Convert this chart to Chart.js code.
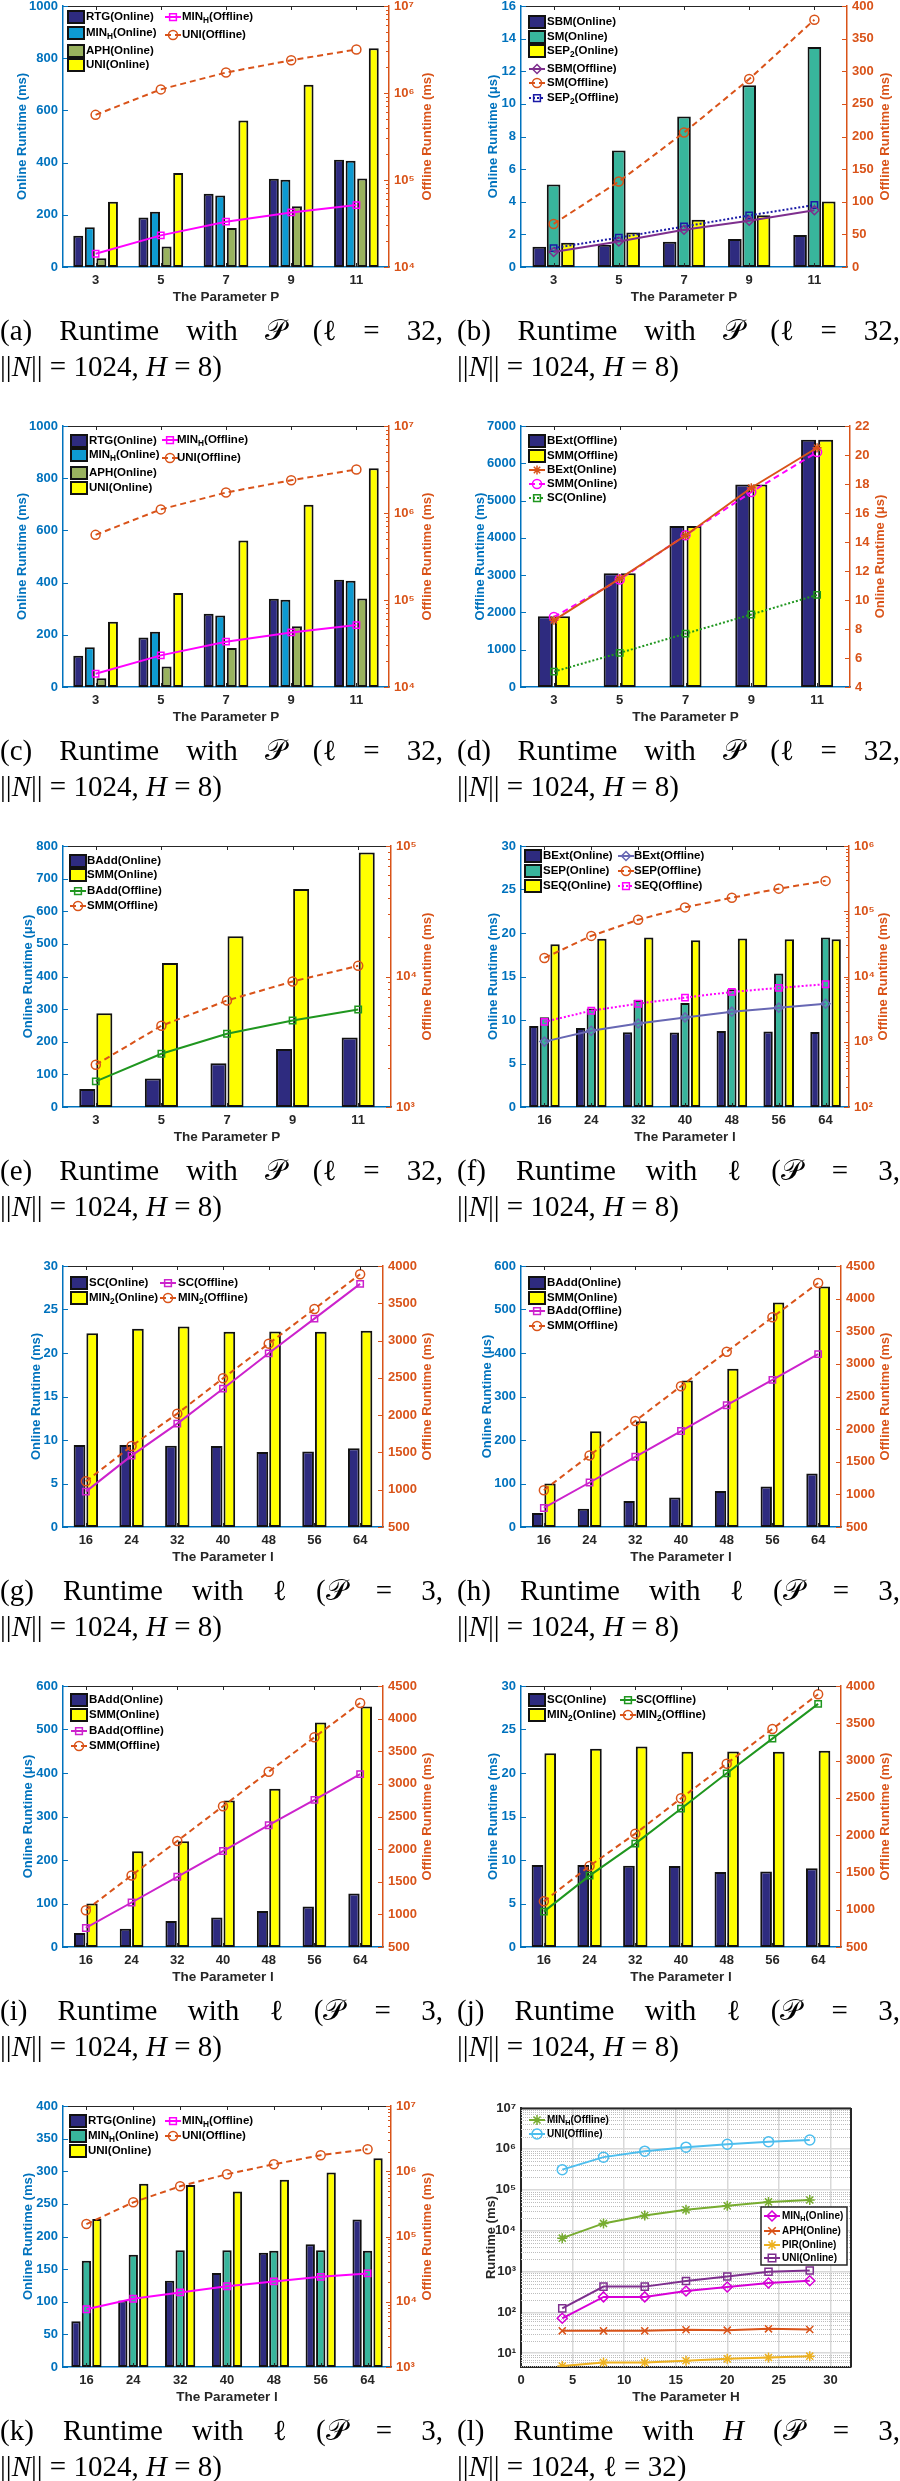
<!DOCTYPE html>
<html>
<head>
<meta charset="utf-8">
<title>Runtime figures</title>
<script src="https://cdn.jsdelivr.net/npm/chart.js@4.4.1/dist/chart.umd.min.js"></script>
<style>
  body { margin: 0; background: #fff; }
  #page { position: relative; width: 900px; height: 2481px; overflow: hidden; background: #fff; }
  canvas { position: absolute; }
  .cap { position: absolute; width: 443px; font-family: 'Liberation Serif', 'DejaVu Serif', serif; font-size: 29px; line-height: 36px; color: #000; white-space: nowrap; }
  .cap.l1 { display: flex; justify-content: space-between; }
  .cap i { font-style: italic; }
</style>
</head>
<body>
<div id="page"></div>
<script>
// x categories
const paramP = ['3', '5', '7', '9', '11'];
const paramL = ['16', '24', '32', '40', '48', '56', '64'];
const paramH = [4, 8, 12, 16, 20, 24, 28];

// (a)/(c) runtime with P
const pRtgOnline = [120, 190, 281, 338, 411];
const pMinHOnline = [152, 212, 274, 334, 407];
const pAphOnline = [34, 79, 149, 233, 339];
const pUniOnline = [250, 360, 561, 698, 838];
const pMinHOffline = [14200, 23100, 33200, 42400, 51500];
const pUniOffline = [561000, 1100000, 1720000, 2380000, 3160000];

// (b)
const pSbmOnline = [1.24, 1.37, 1.55, 1.71, 1.96];
const pSmOnline = [5.06, 7.14, 9.22, 11.14, 13.49];
const pSep2Online = [1.49, 2.12, 2.90, 3.18, 4.02];
const pSbmOffline = [23, 39, 57, 71, 87];
const pSmOffline = [66, 131, 206, 288, 379];
const pSep2Offline = [29, 45, 62, 79, 95];

// (d)
const pBextOffline = [1898, 3053, 4315, 5434, 6634];
const pSmmOfflineD = [1898, 3053, 4315, 5434, 6634];
const pBextOnline = [8.60, 11.48, 14.45, 17.74, 20.5];
const pSmmOnlineD = [8.83, 11.41, 14.47, 17.44, 20.2];
const pScOnline = [5.06, 6.35, 7.68, 9.0, 10.35];

// (e)
const pBaddOnline = [55, 87, 134, 178, 213];
const pSmmOnline = [287, 441, 523, 668, 780];
const pBaddOffline = [1570, 2560, 3640, 4600, 5590];
const pSmmOffline = [2110, 4190, 6550, 9160, 12070];

// (f) runtime with l
const lBextOnline = [9.32, 9.09, 8.59, 8.55, 8.74, 8.67, 8.63];
const lSepOnline = [10.31, 11.31, 12.31, 11.96, 13.54, 15.34, 19.48];
const lSeqOnline = [18.71, 19.33, 19.48, 19.17, 19.36, 19.29, 19.29];
const lBextOffline = [1005, 1470, 1900, 2360, 2890, 3330, 3830];
const lSepOffline = [19200, 41900, 73900, 114600, 161000, 222000, 292000];
const lSeqOffline = [2020, 2990, 3830, 4740, 5800, 6690, 7620];

// (g)/(j)
const lScOnline = [9.42, 9.42, 9.34, 9.30, 8.61, 8.69, 9.04];
const lMin2Online = [22.28, 22.78, 23.05, 22.43, 22.47, 22.43, 22.55];
const lScOffline = [974, 1457, 1886, 2355, 2829, 3294, 3760];
const lMin2Offline = [1112, 1586, 2020, 2494, 2959, 3424, 3890];

// (h)/(i)
const lBaddOnline = [32, 42, 60, 68, 83, 93, 123];
const lSmmOnline = [100, 220, 243, 337, 364, 516, 553];
const lBaddOffline = [792, 1182, 1576, 1971, 2366, 2755, 3150];
const lSmmOffline = [1064, 1597, 2125, 2658, 3186, 3714, 4240];

// (k)
const lRtgOnline = [70, 102, 132, 144, 175, 188, 226];
const lMinHOnline = [163, 172, 179, 179, 178, 179, 178];
const lUniOnline = [227, 281, 279, 269, 287, 298, 320];
const lMinHOffline = [7690, 11100, 13900, 17300, 20500, 24100, 27200];
const lUniOffline = [155000, 334000, 589000, 900000, 1280000, 1760000, 2180000];

// (l) runtime with H
const hMinHOffline = [6530, 15000, 23500, 32200, 40300, 50300, 56200];
const hUniOffline = [310000, 628000, 880000, 1100000, 1300000, 1500000, 1650000];
const hMinHOnline = [71.6, 239, 239, 334, 418, 522, 594];
const hAphOnline = [35.3, 35.3, 35.3, 37.4, 36.6, 39.5, 38.1];
const hPirOnline = [4.85, 5.94, 5.94, 6.53, 7.29, 7.85, 8.46];
const hUniOnline = [125, 426, 426, 583, 757, 982, 1057];

const FAM = "'Liberation Sans', Arial, Helvetica, sans-serif";
const TICK_FONT = { family: FAM, size: 13, weight: 'bold' };
const BLUE = '#0072BD', ORANGE = '#D95319', DARK = '#262626';
const NAVY = '#2E2B7F', CYAN = '#0D9AD1', OLIVE = '#99B25E', YELLOW = '#FFFF00', TEAL = '#38B59C';
const MAGENTA = '#FF00FF', MAG2 = '#CC22CC', PURPLE = '#7E2F8E', DKBLUE = '#1A1AA6';
const GREEN = '#1F961F', SLATE = '#6767B3';
const DASH = [6, 4], DOT = [2, 2];
const SUP = '⁰¹²³⁴⁵⁶⁷⁸⁹';

const page = document.getElementById('page');

function pow10(v) {
  return '10' + SUP[Math.round(Math.log10(v))];
}
function decades(min, max) {
  const out = [];
  for (let e = Math.ceil(Math.log10(min) - 1e-9); e <= Math.floor(Math.log10(max) + 1e-9); e++) {
    out.push({ value: Math.pow(10, e) });
  }
  return out;
}

function bars(label, data, color) {
  return { type: 'bar', label, data, backgroundColor: color, borderColor: '#111', borderWidth: 2,
    borderSkipped: false, yAxisID: 'y', order: 2 };
}
function line(label, data, color, marker, dash) {
  return { type: 'line', label, data, borderColor: color, borderWidth: 2, borderDash: dash || [],
    pointStyle: marker, pointRadius: 4.5, pointBorderColor: color, pointBorderWidth: 1.5,
    pointBackgroundColor: 'rgba(0,0,0,0)', fill: false, tension: 0, yAxisID: 'y2', order: 1 };
}

// small marker drawer for the legends
function marker(ctx, style, x, y, r) {
  ctx.beginPath();
  if (style === 'circle') {
    ctx.arc(x, y, r, 0, Math.PI * 2);
  } else if (style === 'rect') {
    const s = r * 0.75;
    ctx.rect(x - s, y - s, 2 * s, 2 * s);
  } else if (style === 'rectRot') {
    ctx.moveTo(x, y - r); ctx.lineTo(x + r, y); ctx.lineTo(x, y + r); ctx.lineTo(x - r, y); ctx.closePath();
  } else if (style === 'crossRot') {
    const s = r * 0.75;
    ctx.moveTo(x - s, y - s); ctx.lineTo(x + s, y + s); ctx.moveTo(x + s, y - s); ctx.lineTo(x - s, y + s);
  } else if (style === 'star') {
    for (let k = 0; k < 4; k++) {
      const an = k * Math.PI / 4;
      ctx.moveTo(x - r * Math.cos(an), y - r * Math.sin(an));
      ctx.lineTo(x + r * Math.cos(an), y + r * Math.sin(an));
    }
  }
  ctx.stroke();
}

// text with one-char subscripts written as _X
function richText(ctx, s, x, y, size) {
  const parts = s.split(/_(\w)/);
  let cx = x;
  parts.forEach((p, i) => {
    if (i % 2) {
      ctx.font = `bold ${size * 0.72}px ${FAM}`;
      ctx.fillText(p, cx, y + size * 0.35);
    } else {
      ctx.font = `bold ${size}px ${FAM}`;
      ctx.fillText(p, cx, y);
    }
    cx += ctx.measureText(p).width;
  });
}

function vText(ctx, text, x, y, color) {
  ctx.save();
  ctx.translate(x, y);
  ctx.rotate(-Math.PI / 2);
  ctx.fillStyle = color;
  ctx.textAlign = 'center';
  ctx.textBaseline = 'middle';
  ctx.fillText(text, 0, 0);
  ctx.restore();
}

function ticksIn(ctx, scale, x0, dir, color) {
  ctx.strokeStyle = color;
  ctx.lineWidth = 1;
  ctx.beginPath();
  scale.ticks.forEach(t => {
    const py = Math.round(scale.getPixelForValue(t.value)) + 0.5;
    ctx.moveTo(x0, py); ctx.lineTo(x0 + dir * 5, py);
  });
  if (scale.type === 'logarithmic') {
    for (let e = Math.floor(Math.log10(scale.min)); e < Math.ceil(Math.log10(scale.max)); e++) {
      for (let k = 2; k <= 9; k++) {
        const v = k * Math.pow(10, e);
        if (v <= scale.min || v >= scale.max) continue;
        const py = Math.round(scale.getPixelForValue(v)) + 0.5;
        ctx.moveTo(x0, py); ctx.lineTo(x0 + dir * 3, py);
      }
    }
  }
  ctx.stroke();
}

function drawLegend(chart, lg) {
  const { ctx, chartArea: a } = chart;
  const x0 = a.left + lg.x;
  const size = lg.size || 11.5;
  if (lg.frame) {
    const [fx0, fy0, fx1, fy1] = lg.frame;
    ctx.fillStyle = '#fff';
    ctx.fillRect(a.left + fx0, a.top + fy0, fx1 - fx0, fy1 - fy0);
    ctx.strokeStyle = DARK; ctx.lineWidth = 1.5; ctx.setLineDash([]);
    ctx.strokeRect(a.left + fx0, a.top + fy0, fx1 - fx0, fy1 - fy0);
  }
  lg.rows.forEach(([di, dy]) => {
    const ds = chart.data.datasets[di];
    const y = a.top + dy;
    if (ds.type === 'bar') {
      ctx.fillStyle = ds.backgroundColor;
      ctx.fillRect(x0, y - 6, 16, 12);
      ctx.strokeStyle = '#111'; ctx.lineWidth = 2; ctx.setLineDash([]);
      ctx.strokeRect(x0, y - 6, 16, 12);
    } else {
      ctx.strokeStyle = ds.borderColor; ctx.lineWidth = ds.borderWidth;
      ctx.setLineDash(ds.borderDash || []);
      ctx.beginPath(); ctx.moveTo(x0, y); ctx.lineTo(x0 + 16, y); ctx.stroke();
      ctx.setLineDash([]); ctx.lineWidth = 1.5;
      marker(ctx, ds.pointStyle, x0 + 8, y, ds.pointRadius);
    }
    ctx.fillStyle = '#000'; ctx.textBaseline = 'middle'; ctx.textAlign = 'left';
    richText(ctx, ds.label, a.left + lg.tx, y, size);
  });
}

const decor = {
  id: 'decor',
  beforeDatasetsDraw(chart, args, o) {
    if (!o.minorGrid) return;
    const { ctx, chartArea: a } = chart;
    const ys = chart.scales.y;
    ctx.save();
    ctx.strokeStyle = '#bdbdbd'; ctx.lineWidth = 1; ctx.setLineDash([1, 1]);
    ctx.beginPath();
    for (let e = 0; e < 7; e++) {
      for (let k = 2; k <= 9; k++) {
        const v = k * Math.pow(10, e);
        if (v <= ys.min || v >= ys.max) continue;
        const py = Math.round(ys.getPixelForValue(v)) + 0.5;
        ctx.moveTo(a.left, py); ctx.lineTo(a.right, py);
      }
    }
    ctx.stroke();
    ctx.restore();
  },
  afterDraw(chart, args, o) {
    const { ctx, chartArea: a, scales } = chart;
    ctx.save();
    ctx.strokeStyle = o.frameColor || DARK;
    ctx.lineWidth = o.frameWidth || 1;
    ctx.beginPath();
    ctx.moveTo(a.left, a.top + 0.5); ctx.lineTo(a.right, a.top + 0.5);
    if (o.fullBox) { ctx.moveTo(a.right, a.top); ctx.lineTo(a.right, a.bottom); }
    ctx.stroke();
    if (o.ticksIn) {
      ticksIn(ctx, scales.y, a.left, 1, o.yColor);
      if (scales.y2) ticksIn(ctx, scales.y2, a.right, -1, o.y2Color);
      ctx.strokeStyle = DARK; ctx.lineWidth = 1;
      ctx.beginPath();
      scales.x.ticks.forEach((t, i) => {
        const px = Math.round(scales.x.getPixelForTick(i)) + 0.5;
        ctx.moveTo(px, a.top); ctx.lineTo(px, a.top + 4);
        ctx.moveTo(px, a.bottom); ctx.lineTo(px, a.bottom - 4);
      });
      ctx.stroke();
    }
    ctx.font = `bold 13px ${FAM}`;
    vText(ctx, o.yTitle, a.left - o.yDx, (a.top + a.bottom) / 2, o.yColor);
    if (o.y2Title) vText(ctx, o.y2Title, a.right + o.y2Dx, (a.top + a.bottom) / 2, o.y2Color);
    ctx.font = `bold 13.5px ${FAM}`;
    ctx.fillStyle = DARK; ctx.textAlign = 'center'; ctx.textBaseline = 'middle';
    ctx.fillText(o.xTitle, (a.left + a.right) / 2, a.bottom + 30);
    (o.legends || []).forEach(lg => drawLegend(chart, lg));
    ctx.restore();
  }
};

function addCanvas(x, y, w, h) {
  const cv = document.createElement('canvas');
  cv.width = w; cv.height = h;
  cv.style.left = x + 'px'; cv.style.top = y + 'px';
  cv.style.width = w + 'px'; cv.style.height = h + 'px';
  page.appendChild(cv);
  return cv;
}

function axis(spec, pos, color, width) {
  const ax = {
    position: pos, min: spec.min, max: spec.max,
    grid: { display: false, drawTicks: false },
    border: { display: true, color, width: 1.5 },
    ticks: { color, font: TICK_FONT, padding: 5, autoSkip: false, includeBounds: false },
    afterFit: s => { s.width = width; }
  };
  if (spec.log) {
    ax.type = 'logarithmic';
    ax.ticks.callback = v => pow10(v);
    ax.afterBuildTicks = s => { s.ticks = decades(spec.min, spec.max); };
  } else {
    ax.type = 'linear';
    ax.ticks.stepSize = spec.step;
    ax.ticks.callback = v => String(v);
  }
  return ax;
}

function makeBarPanel(p) {
  const colX = p.col * 450;
  const top = 6 + 420 * p.row, bottom = 267 + 420 * p.row;
  const padTop = 14, xH = 46, w = 450, h = bottom - top + padTop + xH;
  const cv = addCanvas(colX, top - padTop, w, h);
  p.datasets.forEach(ds => {
    if (ds.type === 'bar') { ds.categoryPercentage = p.cat; ds.barPercentage = p.bar; }
  });
  new Chart(cv, {
    type: 'bar',
    data: { labels: p.labels, datasets: p.datasets },
    options: {
      responsive: false, animation: false, devicePixelRatio: 1,
      layout: { padding: { top: padTop, left: 0, right: 0, bottom: 0 } },
      plugins: {
        legend: { display: false }, tooltip: { enabled: false },
        decor: {
          ticksIn: true, yColor: BLUE, y2Color: ORANGE,
          yTitle: p.yTitle, yDx: p.yDx, y2Title: p.y2Title, y2Dx: p.y2Dx,
          xTitle: p.xTitle, legends: p.legends
        }
      },
      scales: {
        x: {
          type: 'category', offset: true,
          grid: { display: false, drawTicks: false },
          border: { display: true, color: BLUE, width: 1.5 },
          ticks: { color: DARK, font: TICK_FONT, padding: 6 },
          afterFit: s => { s.height = xH; }
        },
        y: axis(p.y, 'left', BLUE, p.L - colX),
        y2: axis(p.y2, 'right', ORANGE, colX + w - p.R)
      }
    },
    plugins: [decor]
  });
}

// (a)
makeBarPanel({
  row: 0, col: 0, L: 63, R: 389, labels: paramP, cat: 0.71, bar: 0.86,
  datasets: [
    bars('RTG(Online)', pRtgOnline, NAVY), bars('MIN_H(Online)', pMinHOnline, CYAN),
    bars('APH(Online)', pAphOnline, OLIVE), bars('UNI(Online)', pUniOnline, YELLOW),
    line('MIN_H(Offline)', pMinHOffline, MAGENTA, 'rect'), line('UNI(Offline)', pUniOffline, ORANGE, 'circle', DASH)
  ],
  y: { min: 0, max: 1000, step: 200 }, y2: { min: 1e4, max: 1e7, log: true },
  yTitle: 'Online Runtime (ms)', yDx: 41, y2Title: 'Offline Runtime (ms)', y2Dx: 38, xTitle: 'The Parameter P',
  legends: [{ x: 5, tx: 23, rows: [[0, 11], [1, 27], [2, 45], [3, 59]] }, { x: 102, tx: 119, rows: [[4, 11], [5, 29]] }]
});

// (b)
makeBarPanel({
  row: 0, col: 1, L: 521, R: 847, labels: paramP, cat: 0.66, bar: 0.95,
  datasets: [
    bars('SBM(Online)', pSbmOnline, NAVY), bars('SM(Online)', pSmOnline, TEAL), bars('SEP_2(Online)', pSep2Online, YELLOW),
    line('SBM(Offline)', pSbmOffline, PURPLE, 'rectRot'), line('SM(Offline)', pSmOffline, ORANGE, 'circle', DASH),
    line('SEP_2(Offline)', pSep2Offline, DKBLUE, 'rect', DOT)
  ],
  y: { min: 0, max: 16, step: 2 }, y2: { min: 0, max: 400, step: 50 },
  yTitle: 'Online Runtime (μs)', yDx: 28, y2Title: 'Offline Runtime (ms)', y2Dx: 38, xTitle: 'The Parameter P',
  legends: [{ x: 8, tx: 26, rows: [[0, 16], [1, 31], [2, 45], [3, 63], [4, 77], [5, 92]] }]
});

// (c)
makeBarPanel({
  row: 1, col: 0, L: 63, R: 389, labels: paramP, cat: 0.71, bar: 0.86,
  datasets: [
    bars('RTG(Online)', pRtgOnline, NAVY), bars('MIN_H(Online)', pMinHOnline, CYAN),
    bars('APH(Online)', pAphOnline, OLIVE), bars('UNI(Online)', pUniOnline, YELLOW),
    line('MIN_H(Offline)', pMinHOffline, MAGENTA, 'rect'), line('UNI(Offline)', pUniOffline, ORANGE, 'circle', DASH)
  ],
  y: { min: 0, max: 1000, step: 200 }, y2: { min: 1e4, max: 1e7, log: true },
  yTitle: 'Online Runtime (ms)', yDx: 41, y2Title: 'Offline Runtime (ms)', y2Dx: 38, xTitle: 'The Parameter P',
  legends: [{ x: 8, tx: 26, rows: [[0, 15], [1, 29], [2, 47], [3, 62]] }, { x: 99, tx: 114, rows: [[4, 14], [5, 32]] }]
});

// (d)
makeBarPanel({
  row: 1, col: 1, L: 521, R: 850, labels: paramP, cat: 0.52, bar: 0.875,
  datasets: [
    bars('BExt(Offline)', pBextOffline, NAVY), bars('SMM(Offline)', pSmmOfflineD, YELLOW),
    line('BExt(Online)', pBextOnline, ORANGE, 'star'), line('SMM(Online)', pSmmOnlineD, MAGENTA, 'circle', DASH),
    line('SC(Online)', pScOnline, GREEN, 'rect', DOT)
  ],
  y: { min: 0, max: 7000, step: 1000 }, y2: { min: 4, max: 22, step: 2 },
  yTitle: 'Offline Runtime (ms)', yDx: 41, y2Title: 'Online Runtime (μs)', y2Dx: 30, xTitle: 'The Parameter P',
  legends: [{ x: 8, tx: 26, rows: [[0, 15], [1, 30], [2, 44], [3, 58], [4, 72]] }]
});

// (e)
makeBarPanel({
  row: 2, col: 0, L: 63, R: 391, labels: paramP, cat: 0.52, bar: 0.94,
  datasets: [
    bars('BAdd(Online)', pBaddOnline, NAVY), bars('SMM(Online)', pSmmOnline, YELLOW),
    line('BAdd(Offline)', pBaddOffline, GREEN, 'rect'), line('SMM(Offline)', pSmmOffline, ORANGE, 'circle', DASH)
  ],
  y: { min: 0, max: 800, step: 100 }, y2: { min: 1e3, max: 1e5, log: true },
  yTitle: 'Online Runtime (μs)', yDx: 35, y2Title: 'Offline Runtime (ms)', y2Dx: 36, xTitle: 'The Parameter P',
  legends: [{ x: 7, tx: 24, rows: [[0, 15], [1, 29], [2, 45], [3, 60]] }]
});

// (f)
makeBarPanel({
  row: 2, col: 1, L: 521, R: 849, labels: paramL, cat: 0.68, bar: 0.88,
  datasets: [
    bars('BExt(Online)', lBextOnline, NAVY), bars('SEP(Online)', lSepOnline, TEAL), bars('SEQ(Online)', lSeqOnline, YELLOW),
    line('BExt(Offline)', lBextOffline, SLATE, 'rectRot'), line('SEP(Offline)', lSepOffline, ORANGE, 'circle', DASH),
    line('SEQ(Offline)', lSeqOffline, MAGENTA, 'rect', DOT)
  ],
  y: { min: 0, max: 30, step: 5 }, y2: { min: 1e2, max: 1e6, log: true },
  yTitle: 'Online Runtime (ms)', yDx: 28, y2Title: 'Offline Runtime (ms)', y2Dx: 34, xTitle: 'The Parameter l',
  legends: [{ x: 4, tx: 22, rows: [[0, 10], [1, 25], [2, 40]] }, { x: 97, tx: 113, rows: [[3, 10], [4, 25], [5, 40]] }]
});

// (g)
makeBarPanel({
  row: 3, col: 0, L: 63, R: 383, labels: paramL, cat: 0.555, bar: 0.92,
  datasets: [
    bars('SC(Online)', lScOnline, NAVY), bars('MIN_2(Online)', lMin2Online, YELLOW),
    line('SC(Offline)', lScOffline, MAG2, 'rect'), line('MIN_2(Offline)', lMin2Offline, ORANGE, 'circle', DASH)
  ],
  y: { min: 0, max: 30, step: 5 }, y2: { min: 500, max: 4000, step: 500 },
  yTitle: 'Online Runtime (ms)', yDx: 27, y2Title: 'Offline Runtime (ms)', y2Dx: 44, xTitle: 'The Parameter l',
  legends: [{ x: 8, tx: 26, rows: [[0, 17], [1, 32]] }, { x: 97, tx: 115, rows: [[2, 17], [3, 32]] }]
});

// (h)
makeBarPanel({
  row: 3, col: 1, L: 521, R: 841, labels: paramL, cat: 0.54, bar: 0.92,
  datasets: [
    bars('BAdd(Online)', lBaddOnline, NAVY), bars('SMM(Online)', lSmmOnline, YELLOW),
    line('BAdd(Offline)', lBaddOffline, MAG2, 'rect'), line('SMM(Offline)', lSmmOffline, ORANGE, 'circle', DASH)
  ],
  y: { min: 0, max: 600, step: 100 }, y2: { min: 500, max: 4500, step: 500 },
  yTitle: 'Online Runtime (μs)', yDx: 34, y2Title: 'Offline Runtime (ms)', y2Dx: 44, xTitle: 'The Parameter l',
  legends: [{ x: 8, tx: 26, rows: [[0, 17], [1, 32], [2, 45], [3, 60]] }]
});

// (i)
makeBarPanel({
  row: 4, col: 0, L: 63, R: 383, labels: paramL, cat: 0.54, bar: 0.92,
  datasets: [
    bars('BAdd(Online)', lBaddOnline, NAVY), bars('SMM(Online)', lSmmOnline, YELLOW),
    line('BAdd(Offline)', lBaddOffline, MAG2, 'rect'), line('SMM(Offline)', lSmmOffline, ORANGE, 'circle', DASH)
  ],
  y: { min: 0, max: 600, step: 100 }, y2: { min: 500, max: 4500, step: 500 },
  yTitle: 'Online Runtime (μs)', yDx: 35, y2Title: 'Offline Runtime (ms)', y2Dx: 44, xTitle: 'The Parameter l',
  legends: [{ x: 8, tx: 26, rows: [[0, 14], [1, 29], [2, 45], [3, 60]] }]
});

// (j)
makeBarPanel({
  row: 4, col: 1, L: 521, R: 841, labels: paramL, cat: 0.555, bar: 0.92,
  datasets: [
    bars('SC(Online)', lScOnline, NAVY), bars('MIN_2(Online)', lMin2Online, YELLOW),
    line('SC(Offline)', lScOffline, GREEN, 'rect'), line('MIN_2(Offline)', lMin2Offline, ORANGE, 'circle', DASH)
  ],
  y: { min: 0, max: 30, step: 5 }, y2: { min: 500, max: 4000, step: 500 },
  yTitle: 'Online Runtime (ms)', yDx: 28, y2Title: 'Offline Runtime (ms)', y2Dx: 44, xTitle: 'The Parameter l',
  legends: [{ x: 8, tx: 26, rows: [[0, 14], [1, 29]] }, { x: 99, tx: 115, rows: [[2, 14], [3, 29]] }]
});

// (k)
makeBarPanel({
  row: 5, col: 0, L: 63, R: 391, labels: paramL, cat: 0.67, bar: 0.89,
  datasets: [
    bars('RTG(Online)', lRtgOnline, NAVY), bars('MIN_H(Online)', lMinHOnline, TEAL), bars('UNI(Online)', lUniOnline, YELLOW),
    line('MIN_H(Offline)', lMinHOffline, MAGENTA, 'rect'), line('UNI(Offline)', lUniOffline, ORANGE, 'circle', DASH)
  ],
  y: { min: 0, max: 400, step: 50 }, y2: { min: 1e3, max: 1e7, log: true },
  yTitle: 'Online Runtime (ms)', yDx: 35, y2Title: 'Offline Runtime (ms)', y2Dx: 36, xTitle: 'The Parameter l',
  legends: [{ x: 7, tx: 25, rows: [[0, 15], [1, 30], [2, 45]] }, { x: 102, tx: 119, rows: [[3, 15], [4, 30]] }]
});

// (l) runtime with H, log scale
(function () {
  const colX = 450, top = 2108, bottom = 2367, L = 521, R = 851;
  const padTop = 14, xH = 46, w = 450, h = bottom - top + padTop + xH;
  const cv = addCanvas(colX, top - padTop, w, h);
  const hl = (label, arr, color, mk) => ({
    label, data: paramH.map((x, i) => ({ x, y: arr[i] })), borderColor: color, borderWidth: 2,
    pointStyle: mk, pointRadius: 5, pointBorderColor: color, pointBorderWidth: 1.5,
    pointBackgroundColor: 'rgba(0,0,0,0)', fill: false, tension: 0
  });
  new Chart(cv, {
    type: 'line',
    data: {
      datasets: [
        hl('MIN_H(Offline)', hMinHOffline, '#77AC30', 'star'),
        hl('UNI(Offline)', hUniOffline, '#4DBEEE', 'circle'),
        hl('MIN_H(Online)', hMinHOnline, '#D600D6', 'rectRot'),
        hl('APH(Online)', hAphOnline, ORANGE, 'crossRot'),
        hl('PIR(Online)', hPirOnline, '#EDB120', 'star'),
        hl('UNI(Online)', hUniOnline, PURPLE, 'rect')
      ]
    },
    options: {
      responsive: false, animation: false, devicePixelRatio: 1,
      layout: { padding: { top: padTop, left: 0, right: colX + w - R, bottom: 0 } },
      plugins: {
        legend: { display: false }, tooltip: { enabled: false },
        decor: {
          minorGrid: true, fullBox: true, frameColor: DARK, frameWidth: 2,
          yColor: DARK, yTitle: 'Runtime (ms)', yDx: 30, xTitle: 'The Parameter H',
          legends: [
            { x: 8, tx: 26, size: 10, rows: [[0, 12], [1, 26]] },
            { x: 243, tx: 261, size: 10, frame: [240, 99, 326, 157], rows: [[2, 108], [3, 123], [4, 137], [5, 150]] }
          ]
        }
      },
      scales: {
        x: {
          type: 'linear', min: 0, max: 32,
          grid: { color: '#d9d9d9', lineWidth: 1.5, drawTicks: false },
          border: { display: true, color: DARK, width: 2 },
          ticks: { stepSize: 5, includeBounds: false, color: DARK, font: TICK_FONT, padding: 6 },
          afterFit: s => { s.height = xH; }
        },
        y: {
          type: 'logarithmic', min: 4.6, max: 1e7,
          grid: { color: '#d9d9d9', lineWidth: 1.5, drawTicks: false },
          border: { display: true, color: DARK, width: 2 },
          ticks: { color: DARK, font: TICK_FONT, padding: 5, autoSkip: false, callback: v => pow10(v) },
          afterBuildTicks: s => { s.ticks = decades(10, 1e7); },
          afterFit: s => { s.width = L - colX; }
        }
      }
    },
    plugins: [decor]
  });
})();

// captions under each panel
const P = '𝒫';
const capP = '||<i>N</i>|| = 1024, <i>H</i> = 8)';
const captions = [
  ['(a)', 'Runtime', 'with', P, '(ℓ', '=', '32,', capP],
  ['(b)', 'Runtime', 'with', P, '(ℓ', '=', '32,', capP],
  ['(c)', 'Runtime', 'with', P, '(ℓ', '=', '32,', capP],
  ['(d)', 'Runtime', 'with', P, '(ℓ', '=', '32,', capP],
  ['(e)', 'Runtime', 'with', P, '(ℓ', '=', '32,', capP],
  ['(f)', 'Runtime', 'with', 'ℓ', '(' + P, '=', '3,', capP],
  ['(g)', 'Runtime', 'with', 'ℓ', '(' + P, '=', '3,', capP],
  ['(h)', 'Runtime', 'with', 'ℓ', '(' + P, '=', '3,', capP],
  ['(i)', 'Runtime', 'with', 'ℓ', '(' + P, '=', '3,', capP],
  ['(j)', 'Runtime', 'with', 'ℓ', '(' + P, '=', '3,', capP],
  ['(k)', 'Runtime', 'with', 'ℓ', '(' + P, '=', '3,', capP],
  ['(l)', 'Runtime', 'with', '<i>H</i>', '(' + P, '=', '3,', '||<i>N</i>|| = 1024, ℓ = 32)']
];
captions.forEach((c, i) => {
  const row = Math.floor(i / 2), col = i % 2;
  const x = col ? 457 : 0, bottom = 267 + 420 * row;
  const l1 = document.createElement('div');
  l1.className = 'cap l1';
  l1.style.left = x + 'px'; l1.style.top = (bottom + 45) + 'px';
  l1.innerHTML = c.slice(0, 7).map(w => `<span>${w}</span>`).join('');
  const l2 = document.createElement('div');
  l2.className = 'cap';
  l2.style.left = x + 'px'; l2.style.top = (bottom + 81) + 'px';
  l2.innerHTML = c[7];
  page.appendChild(l1);
  page.appendChild(l2);
});
</script>
</body>
</html>
